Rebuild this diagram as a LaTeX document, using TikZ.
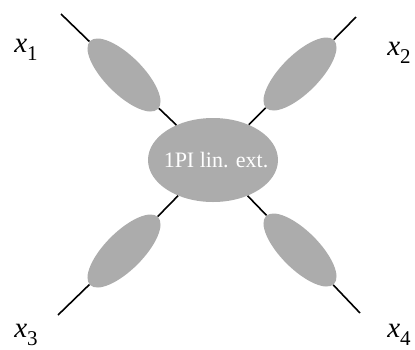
\documentclass[tikz,border=0pt]{standalone}
\usepackage{fontspec}
\setmainfont{Liberation Serif}
\newfontfamily\timesfont{Liberation Serif}
\usetikzlibrary{shapes.geometric}
\definecolor{blobgray}{RGB}{172,172,172}
\tikzset{
  leg/.style={ellipse, fill=blobgray, draw=none, inner sep=0pt,
              minimum width=96pt, minimum height=38pt},
  vertex/.style={ellipse, fill=blobgray, draw=none, inner sep=0pt,
                 minimum width=130pt, minimum height=84pt,
                 text=white, font=\timesfont\fontsize{22}{24}\selectfont},
  prop/.style={line width=1.6pt, black},
  extlabel/.style={font=\timesfont\fontsize{29}{32}\selectfont, inner sep=0pt}
}
% point label: italic x with an upright index
\newcommand{\extpt}[1]{{\itshape x}\raisebox{-0.28em}{\fontsize{21}{24}\selectfont #1}}
\begin{document}
\begin{tikzpicture}[x=1pt,y=-1pt]
  \useasboundingbox (0,0) rectangle (415,349);
  % central one-particle-irreducible vertex
  \node[vertex] (c) at (213,160) {\makebox[0pt]{\raisebox{-5pt}{\hspace{6pt}1PI lin. ext.}}};
  % dressed propagators on the four legs
  \node[leg, rotate=-45] (e1) at (124,75) {};
  \node[leg, rotate=45]  (e2) at (300,74) {};
  \node[leg, rotate=45]  (e3) at (124,251) {};
  \node[leg, rotate=-45] (e4) at (300,250) {};
  % free ends of the legs
  \coordinate (p1) at (61,14);
  \coordinate (p2) at (356,17);
  \coordinate (p3) at (58,315);
  \coordinate (p4) at (360,313);
  % leg lines
  \draw[prop] (p1) -- (e1);
  \draw[prop] (e1) -- (c);
  \draw[prop] (p2) -- (e2);
  \draw[prop] (e2) -- (c);
  \draw[prop] (p3) -- (e3);
  \draw[prop] (e3) -- (c);
  \draw[prop] (p4) -- (e4);
  \draw[prop] (e4) -- (c);
  % external points
  \node[extlabel] (l1) at (26,50)  {\extpt{1}};
  \node[extlabel] (l2) at (399,53) {\extpt{2}};
  \node[extlabel] (l3) at (26,335) {\extpt{3}};
  \node[extlabel] (l4) at (399,335) {\extpt{4}};
\end{tikzpicture}
\end{document}
